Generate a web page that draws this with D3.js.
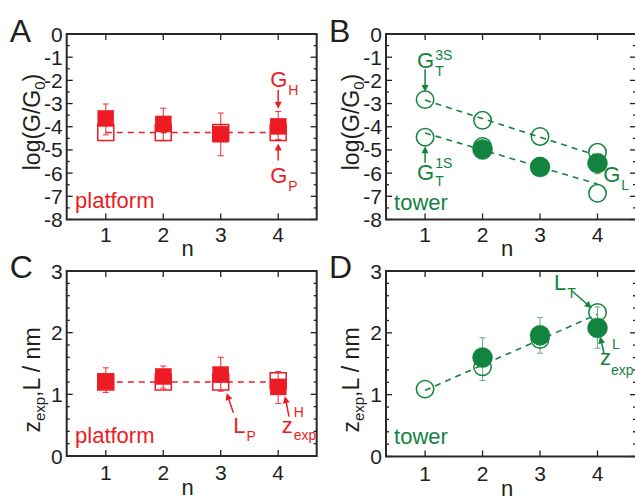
<!DOCTYPE html>
<html>
<head>
<meta charset="utf-8">
<script src="https://cdn.jsdelivr.net/npm/d3@7"></script>
<style>
  body { margin: 0; background: #fff; }
  svg { display: block; font-family: "Liberation Sans", Arial, sans-serif; }
</style>
</head>
<body>
<div id="chart"></div>
<script>
// ---- data ----
const nValues = [1, 2, 3, 4];
const nTower = [2, 3, 4];
const fitN = [1, 4];

// A: log(G/G0), platform
const platformGH = [-3.64, -3.88, -4.32, -3.98];
const platformGHHi = [-3.02, -3.20, -3.41, -3.34];
const platformGHLo = [-4.35, -4.60, -5.25, -4.55];
const platformGP = [-4.25, -4.25, -4.25, -4.25];
const platformGFit = [-4.25, -4.25];

// B: log(G/G0), tower
const towerG3S = [-2.83, -3.72, -4.42, -5.10];
const towerG1S = [-4.45, -4.85, -5.70, -6.87];
const towerGL = [-4.98, -5.74, -5.57];
const towerGLHi = [-4.85, -5.55, -5.25];
const towerGLLo = [-5.10, -5.90, -6.02];
const fit3S = [-2.85, -5.25];
const fit1S = [-4.27, -6.47];

// C: z_exp, L / nm, platform
const platformZH = [1.21, 1.29, 1.32, 1.12];
const platformZHHi = [1.43, 1.46, 1.60, 1.37];
const platformZHLo = [1.03, 1.10, 1.05, 0.85];
const platformLP = [1.20, 1.20, 1.20, 1.22];
const platformLFit = [1.20, 1.20];

// D: z_exp, L / nm, tower
const towerLT = [1.09, 1.45, 1.89, 2.33];
const towerZL = [1.60, 1.96, 2.08];
const towerZLHi = [1.92, 2.25, 2.42];
const towerZLLo = [1.23, 1.67, 1.75];
const fitLT = [1.07, 2.30];

const gTicks = [0, -1, -2, -3, -4, -5, -6, -7, -8];
const zTicks = [0, 1, 2, 3];

const red = "#ed1c24";
const green = "#13843f";
const ink = "#231f20";

const svg = d3.select("#chart").append("svg")
    .attr("width", 635)
    .attr("height", 500);

function panel(opt) {
    const g = svg.append("g");
    const x = d3.scaleLinear().domain([0.32, 4.67]).range([opt.left, opt.left + 250]);
    const y = d3.scaleLinear().domain(opt.yDomain).range([opt.top + opt.h, opt.top]);
    const x0 = opt.left, x1 = opt.left + 250, y0 = opt.top + opt.h, y1 = opt.top;

    // inward ticks on all four sides
    const minor = d3.range(opt.yDomain[0], opt.yDomain[1] + 1e-9, opt.minorStep);
    const tk = g.append("g").attr("stroke", ink).attr("stroke-width", 1.3);
    minor.forEach(v => {
        const major = opt.yTicks.some(t => Math.abs(t - v) < 1e-6);
        const len = major ? 6 : 3;
        tk.append("line").attr("x1", x0).attr("x2", x0 + len).attr("y1", y(v)).attr("y2", y(v));
        tk.append("line").attr("x1", x1).attr("x2", x1 - len).attr("y1", y(v)).attr("y2", y(v));
    });
    nValues.forEach(n => {
        tk.append("line").attr("x1", x(n)).attr("x2", x(n)).attr("y1", y0).attr("y2", y0 - 6);
        tk.append("line").attr("x1", x(n)).attr("x2", x(n)).attr("y1", y1).attr("y2", y1 + 6);
    });
    g.append("rect")
        .attr("x", x0).attr("y", y1).attr("width", 250).attr("height", opt.h)
        .attr("fill", "none").attr("stroke", "#2a2a2a").attr("stroke-width", 2);

    // tick labels
    g.selectAll(".yl").data(opt.yTicks).join("text")
        .attr("x", x0 - 4).attr("y", d => y(d)).attr("dy", "0.36em")
        .attr("text-anchor", "end").attr("font-size", 21).attr("fill", ink)
        .text(d => String(d));
    g.selectAll(".xl").data(nValues).join("text")
        .attr("x", d => x(d)).attr("y", y0 + opt.xTickOff)
        .attr("text-anchor", "middle").attr("font-size", 21).attr("fill", ink)
        .text(d => d);
    g.append("text")
        .attr("x", (x0 + x1) / 2 - 4).attr("y", y0 + opt.xLabelOff)
        .attr("text-anchor", "middle").attr("font-size", 22).attr("fill", ink)
        .text("n");

    // panel letter
    g.append("text")
        .attr("x", x0 - 57).attr("y", y1 + opt.letterOff)
        .attr("font-size", 32).attr("fill", ink).text(opt.letter);

    // rotated y label
    const yl = g.append("text")
        .attr("transform", `translate(${x0 - 27},${opt.yLabelY}) rotate(-90)`)
        .attr("text-anchor", "middle").attr("font-size", 23).attr("fill", ink);
    opt.yLabel.forEach(p => {
        yl.append("tspan").attr("font-size", p.s ? 15 : 23)
            .attr("dy", p.dy || 0).text(p.t);
    });
    return { g, x, y };
}

function dashed(p, xs, ys, color) {
    p.g.append("path")
        .datum(xs.map((d, i) => [d, ys[i]]))
        .attr("d", d3.line().x(d => p.x(d[0])).y(d => p.y(d[1])))
        .attr("fill", "none").attr("stroke", color).attr("stroke-width", 1.6)
        .attr("stroke-dasharray", "6,5");
}

function errorBars(p, xs, hi, lo, color, op) {
    const eb = p.g.append("g").attr("stroke", color).attr("stroke-width", 1.1).attr("opacity", op);
    xs.forEach((n, i) => {
        const cx = p.x(n);
        eb.append("line").attr("x1", cx).attr("x2", cx).attr("y1", p.y(hi[i])).attr("y2", p.y(lo[i]));
        eb.append("line").attr("x1", cx - 3).attr("x2", cx + 3).attr("y1", p.y(hi[i])).attr("y2", p.y(hi[i]));
        eb.append("line").attr("x1", cx - 3).attr("x2", cx + 3).attr("y1", p.y(lo[i])).attr("y2", p.y(lo[i]));
    });
}

function squares(p, xs, ys, color, filled) {
    p.g.append("g").selectAll("rect").data(xs).join("rect")
        .attr("x", d => p.x(d) - 8).attr("y", (d, i) => p.y(ys[i]) - 8)
        .attr("width", 16).attr("height", 16)
        .attr("fill", filled ? color : "none")
        .attr("stroke", color).attr("stroke-width", filled ? 0.5 : 1.5);
}

function circles(p, xs, ys, color, filled) {
    p.g.append("g").selectAll("circle").data(xs).join("circle")
        .attr("cx", d => p.x(d)).attr("cy", (d, i) => p.y(ys[i]))
        .attr("r", filled ? 10 : 8.7)
        .attr("fill", filled ? color : "none")
        .attr("stroke", color).attr("stroke-width", filled ? 0.5 : 1.5);
}

function arrow(p, a, b, color) {
    const x1 = p.x(a[0]), y1 = p.y(a[1]), x2 = p.x(b[0]), y2 = p.y(b[1]);
    const ang = Math.atan2(y2 - y1, x2 - x1);
    p.g.append("line").attr("x1", x1).attr("y1", y1)
        .attr("x2", x2 - 4 * Math.cos(ang)).attr("y2", y2 - 4 * Math.sin(ang))
        .attr("stroke", color).attr("stroke-width", 1.5);
    const s = 7, w = 3.5;
    const pts = [
        [x2, y2],
        [x2 - s * Math.cos(ang) + w * Math.sin(ang), y2 - s * Math.sin(ang) - w * Math.cos(ang)],
        [x2 - s * Math.cos(ang) - w * Math.sin(ang), y2 - s * Math.sin(ang) + w * Math.cos(ang)]
    ];
    p.g.append("path").attr("d", "M" + pts.join("L") + "Z").attr("fill", color);
}

function symbol(p, at, main, sub, sup, color, supDy, subDy) {
    const t = p.g.append("text").attr("x", p.x(at[0])).attr("y", p.y(at[1]))
        .attr("font-size", 22).attr("fill", color).text(main);
    const w = t.node().getComputedTextLength();
    const sx = p.x(at[0]) + w + 1;
    if (sub) p.g.append("text").attr("x", sx).attr("y", p.y(at[1]) + (subDy || 8))
        .attr("font-size", 14).attr("fill", color).text(sub);
    if (sup) p.g.append("text").attr("x", sx).attr("y", p.y(at[1]) + supDy)
        .attr("font-size", 14).attr("fill", color).text(sup);
}

function word(p, at, txt, color) {
    p.g.append("text").attr("x", p.x(at[0])).attr("y", p.y(at[1]))
        .attr("font-size", 22).attr("fill", color).text(txt);
}

const gLabel = [{ t: "log(G/G" }, { t: "0", s: 1, dy: 5 }, { t: ")", dy: -5 }];
const zLabel = [{ t: "z" }, { t: "exp", s: 1, dy: 5 }, { t: ",L / nm", dy: -5 }];

// ---- A ----
const pA = panel({ letter: "A", left: 66.7, top: 34, h: 185.5, yDomain: [-8, 0], yTicks: gTicks,
    minorStep: 0.5, xTickOff: 22, xLabelOff: 36, letterOff: 8, yLabelY: 122, yLabel: gLabel });
dashed(pA, fitN, platformGFit, red);
squares(pA, nValues, platformGP, red, false);
errorBars(pA, nValues, platformGHHi, platformGHLo, red, 0.85);
squares(pA, nValues, platformGH, red, true);
symbol(pA, [3.86, -2.27], "G", "H", null, red, 0);
arrow(pA, [4, -2.42], [4, -3.22], red);
symbol(pA, [3.86, -6.44], "G", "P", null, red, 0);
arrow(pA, [4, -5.46], [4, -4.72], red);
word(pA, [0.465, -7.5], "platform", red);

// ---- B ----
const pB = panel({ letter: "B", left: 386, top: 34, h: 185.5, yDomain: [-8, 0], yTicks: gTicks,
    minorStep: 0.5, xTickOff: 22, xLabelOff: 36, letterOff: 8, yLabelY: 122, yLabel: gLabel });
dashed(pB, fitN, fit3S, green);
dashed(pB, fitN, fit1S, green);
circles(pB, nValues, towerG3S, green, false);
circles(pB, nValues, towerG1S, green, false);
errorBars(pB, nTower, towerGLHi, towerGLLo, green, 0.6);
circles(pB, nTower, towerGL, green, true);
symbol(pB, [0.86, -1.48], "G", "T", "3S", green, -8, 8);
arrow(pB, [1, -1.52], [1, -2.5], green);
symbol(pB, [0.86, -6.3], "G", "T", "1S", green, -12, 6);
arrow(pB, [1, -5.55], [1, -4.84], green);
symbol(pB, [4.1, -6.37], "G", "L", null, green, 0);
word(pB, [0.46, -7.6], "tower", green);

// ---- C ----
const pC = panel({ letter: "C", left: 66.7, top: 271, h: 185, yDomain: [0, 3], yTicks: zTicks,
    minorStep: 0.2, xTickOff: 24, xLabelOff: 39, letterOff: 7, yLabelY: 380, yLabel: zLabel });
dashed(pC, fitN, platformLFit, red);
squares(pC, nValues, platformLP, red, false);
errorBars(pC, nValues, platformZHHi, platformZHLo, red, 0.85);
squares(pC, nValues, platformZH, red, true);
symbol(pC, [3.22, 0.378], "L", "P", null, red, 0);
arrow(pC, [3.22, 0.70], [3.104, 1.02], red);
symbol(pC, [4.06, 0.378], "z", null, "H", red, -16);
pC.g.append("text").attr("x", pC.x(4.06) + 12).attr("y", pC.y(0.378) + 7)
    .attr("font-size", 14).attr("fill", red).text("exp");
arrow(pC, [4.188, 0.64], [4.118, 0.97], red);
word(pC, [0.465, 0.21], "platform", red);

// ---- D ----
const pD = panel({ letter: "D", left: 386, top: 271, h: 185.5, yDomain: [0, 3], yTicks: zTicks,
    minorStep: 0.2, xTickOff: 24, xLabelOff: 39, letterOff: 7, yLabelY: 380, yLabel: zLabel });
dashed(pD, fitN, fitLT, green);
circles(pD, nValues, towerLT, green, false);
errorBars(pD, nTower, towerZLHi, towerZLLo, green, 0.6);
circles(pD, nTower, towerZL, green, true);
symbol(pD, [3.243, 2.69], "L", "T", null, green, 0);
arrow(pD, [3.55, 2.68], [3.9, 2.4], green);
symbol(pD, [4.044, 1.48], "z", null, "L", green, -16);
pD.g.append("text").attr("x", pD.x(4.044) + 11).attr("y", pD.y(1.48) + 10)
    .attr("font-size", 14).attr("fill", green).text("exp");
arrow(pD, [4.114, 1.67], [4.044, 1.94], green);
word(pD, [0.46, 0.21], "tower", green);
</script>
</body>
</html>
